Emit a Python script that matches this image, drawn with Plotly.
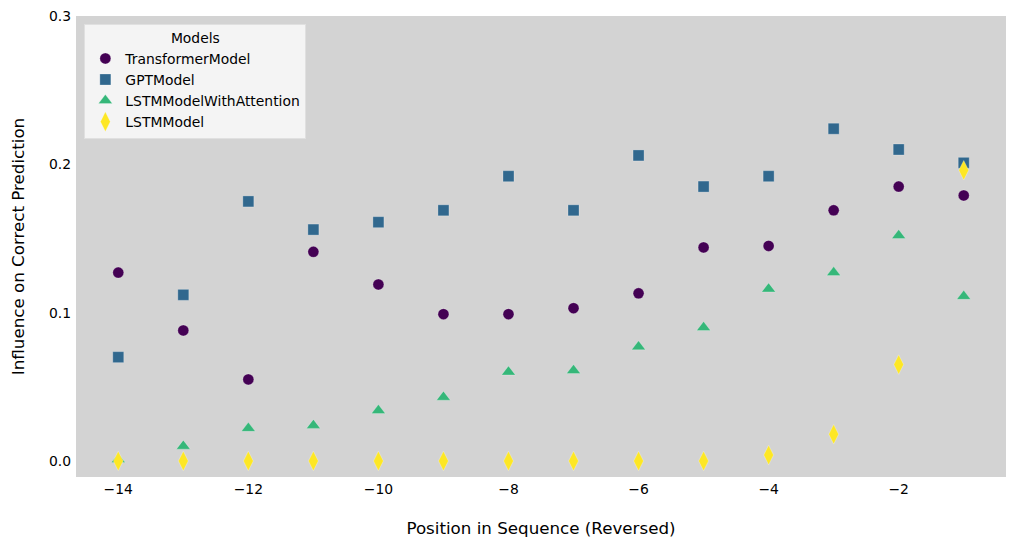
import plotly.graph_objects as go

positions = [-14, -13, -12, -11, -10, -9, -8, -7, -6, -5, -4, -3, -2, -1]

transformer = [0.127, 0.088, 0.055, 0.141, 0.119, 0.099, 0.099, 0.103, 0.113,
               0.144, 0.145, 0.169, 0.185, 0.179]
gpt = [0.070, 0.112, 0.175, 0.156, 0.161, 0.169, 0.192, 0.169, 0.206,
       0.185, 0.192, 0.224, 0.210, 0.201]
lstm_attn = [0.001, 0.010, 0.022, 0.024, 0.034, 0.043, 0.060, 0.061, 0.077,
             0.090, 0.116, 0.127, 0.152, 0.111]
lstm = [0.0, 0.0, 0.0, 0.0, 0.0, 0.0, 0.0, 0.0, 0.0,
        0.0, 0.004, 0.018, 0.065, 0.196]

series = [
    ('TransformerModel', transformer, 'circle', '#440154', 11),
    ('GPTModel', gpt, 'square', '#31688e', 11),
    ('LSTMModelWithAttention', lstm_attn, 'triangle-up', '#35b779', 12),
    ('LSTMModel', lstm, 'diamond-tall', '#fde725', 14),
]

fig = go.Figure()
for name, vals, symbol, color, size in series:
    fig.add_trace(go.Scatter(
        x=positions, y=vals, mode='markers', name=name,
        marker=dict(symbol=symbol, color=color, size=size,
                    line=dict(width=0.5, color='rgba(255,255,255,0.5)')),
    ))

# page body has an 8px margin, so the figure is a bit smaller than the window
fig.update_layout(
    width=1011, height=536,
    margin=dict(l=68, r=13, t=8, b=67),
    paper_bgcolor='white',
    plot_bgcolor='#d3d3d3',
    font=dict(family='DejaVu Sans', size=13.9, color='black'),
    legend=dict(
        title=dict(text='Models', side='top center', font=dict(size=13.9)),
        x=0.009, y=0.983, xanchor='left', yanchor='top',
        bgcolor='rgba(245,245,245,0.95)',
        bordercolor='#e0e0e0', borderwidth=1,
        font=dict(size=13.9),
        tracegroupgap=0,
    ),
    xaxis=dict(
        range=[-14.65, -0.35],
        tickvals=[-14, -12, -10, -8, -6, -4, -2],
        showgrid=False, zeroline=False, showline=False,
        ticks='', ticklen=0, automargin=False,
        tickfont=dict(size=13.9), ticklabelstandoff=2,
        title=dict(text='Position in Sequence (Reversed)', font=dict(size=16.7), standoff=26),
    ),
    yaxis=dict(
        range=[-0.0108, 0.3],
        tickvals=[0.0, 0.1, 0.2, 0.3],
        tickformat='.1f',
        showgrid=False, zeroline=False, showline=False,
        ticks='', ticklen=0, automargin=False,
        tickfont=dict(size=13.9), ticklabelstandoff=4,
        ticklabeloverflow='allow',
        title=dict(text='Influence on Correct Prediction', font=dict(size=16.7), standoff=24),
    ),
)

fig.write_html("out.html")
